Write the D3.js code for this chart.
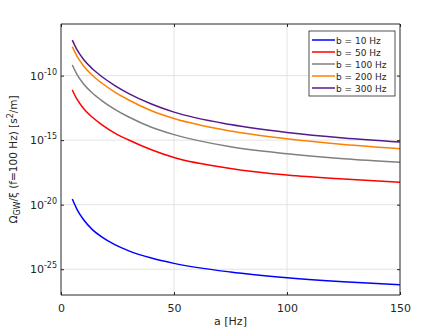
<!DOCTYPE html>
<html>
<head>
<meta charset="utf-8">
<script src="https://cdn.jsdelivr.net/npm/d3@7"></script>
<style>
html,body{margin:0;padding:0;background:#fff;}
svg{display:block;font-family:"DejaVu Sans",sans-serif;}
</style>
</head>
<body>
<svg id="chart" width="443" height="332"></svg>
<script>
// ---- data ----
const aValues = [5, 7, 10, 14, 18, 24, 30, 40, 50, 75, 100, 125, 150];
const b10  = [2.75e-20, 4.57e-21, 6.76e-22, 1.12e-22, 3.16e-23, 7.59e-24, 2.63e-24, 7.24e-25, 2.82e-25, 6.03e-26, 2.19e-26, 1.07e-26, 6.31e-27];
const b50  = [7.76e-12, 1.55e-12, 2.82e-13, 5.62e-14, 1.62e-14, 3.39e-15, 1.02e-15, 1.78e-16, 4.47e-17, 6.31e-18, 1.95e-18, 9.55e-19, 5.50e-19];
const b100 = [6.76e-10, 1.32e-10, 2.24e-11, 4.27e-12, 1.17e-12, 2.34e-13, 6.17e-14, 1.00e-14, 2.69e-15, 3.09e-16, 8.91e-17, 3.63e-17, 1.91e-17];
const b200 = [1.78e-8, 3.39e-9, 5.62e-10, 1.02e-10, 2.69e-11, 5.13e-12, 1.29e-12, 1.91e-13, 4.79e-14, 5.13e-15, 1.26e-15, 4.57e-16, 2.19e-16];
const b300 = [5.62e-8, 1.07e-8, 1.78e-9, 3.24e-10, 8.51e-11, 1.62e-11, 4.07e-12, 6.31e-13, 1.48e-13, 1.62e-14, 3.98e-15, 1.48e-15, 7.24e-16];
const seriesNames = ["b = 10 Hz", "b = 50 Hz", "b = 100 Hz", "b = 200 Hz", "b = 300 Hz"];
const seriesColors = ["#0000ff", "#ff0000", "#808080", "#ff8000", "#551a8b"];
const xTicks = [0, 50, 100, 150];
const yTickExps = [-10, -15, -20, -25];

const seriesValues = [b10, b50, b100, b200, b300];

// ---- layout ----
const svg = d3.select("#chart");
const L = 61, R = 400, T = 24, B = 295;
const axisColor = "#262626";

const x = d3.scaleLinear().domain([0, 150]).range([L, R]);
const y = d3.scaleLog().domain([1e-27, 1e-6]).range([B, T]);

// grid
const grid = svg.append("g");
grid.selectAll("line.gx").data(xTicks.slice(1, -1)).enter().append("line")
  .attr("x1", d => x(d)).attr("x2", d => x(d)).attr("y1", T).attr("y2", B)
  .attr("stroke", "#e3e3e3").attr("stroke-width", 1);
grid.selectAll("line.gy").data(yTickExps).enter().append("line")
  .attr("x1", L).attr("x2", R).attr("y1", d => y(Math.pow(10, d))).attr("y2", d => y(Math.pow(10, d)))
  .attr("stroke", "#e3e3e3").attr("stroke-width", 1);

// lines
const line = d3.line()
  .x((d, i) => x(aValues[i]))
  .y(d => y(d))
  .curve(d3.curveMonotoneX);
svg.append("g").selectAll("path").data(seriesValues).enter().append("path")
  .attr("d", d => line(d))
  .attr("fill", "none")
  .attr("stroke", (d, i) => seriesColors[i])
  .attr("stroke-width", 1.5);

// axes (ticks inside)
const xAxis = d3.axisBottom(x).tickValues(xTicks).tickSize(-3).tickPadding(9).tickFormat(d3.format("d"));
const gx = svg.append("g").attr("transform", `translate(0,${B})`).call(xAxis);
const xAxisTop = d3.axisTop(x).tickValues(xTicks).tickSize(-3).tickFormat("");
const gxt = svg.append("g").attr("transform", `translate(0,${T})`).call(xAxisTop);

const yAxis = d3.axisLeft(y).tickValues(yTickExps.map(e => Math.pow(10, e))).tickSize(-3).tickFormat("");
const gy = svg.append("g").attr("transform", `translate(${L},0)`).call(yAxis);
const yAxisR = d3.axisRight(y).tickValues(yTickExps.map(e => Math.pow(10, e))).tickSize(-3).tickFormat("");
const gyr = svg.append("g").attr("transform", `translate(${R},0)`).call(yAxisR);

[gx, gxt, gy, gyr].forEach(g => {
  g.select(".domain").attr("stroke", axisColor).attr("stroke-width", 1);
  g.selectAll(".tick line").attr("stroke", axisColor);
});
gx.selectAll(".tick text").attr("fill", axisColor).attr("font-size", 11).attr("font-family", "DejaVu Sans");
gx.select(".domain").attr("d", `M${L},0H${R}`);
gxt.select(".domain").attr("d", `M${L},0H${R}`);
gy.select(".domain").attr("d", `M0,${T}V${B}`);
gyr.select(".domain").attr("d", `M0,${T}V${B}`);

// y tick labels with superscript exponents
const yl = svg.append("g");
yTickExps.forEach(e => {
  const t = yl.append("text")
    .attr("x", L - 4).attr("y", y(Math.pow(10, e)) + 4)
    .attr("text-anchor", "end").attr("fill", axisColor).attr("font-size", 11);
  t.append("tspan").text("10");
  t.append("tspan").attr("dy", -5).attr("font-size", 8).text(String(e));
});

// x label
svg.append("text").attr("x", (L + R) / 2).attr("y", 325).attr("text-anchor", "middle")
  .attr("fill", axisColor).attr("font-size", 11).text("a [Hz]");

// y label
const ylab = svg.append("text")
  .attr("transform", `translate(17,${(T + B) / 2}) rotate(-90)`)
  .attr("text-anchor", "middle").attr("fill", axisColor).attr("font-size", 10.5);
ylab.append("tspan").text("Ω");
ylab.append("tspan").attr("dy", 3).attr("font-size", 8).text("GW");
ylab.append("tspan").attr("dy", -3).text("/ξ (f=100 Hz) [s");
ylab.append("tspan").attr("dy", -4).attr("font-size", 8).text("2");
ylab.append("tspan").attr("dy", 4).text("/m]");

// legend
const lg = svg.append("g");
const lgX = 309, lgY = 31, lgW = 86, lgH = 65;
lg.append("rect").attr("x", lgX).attr("y", lgY).attr("width", lgW).attr("height", lgH)
  .attr("fill", "#fff").attr("stroke", axisColor).attr("stroke-width", 0.8);
seriesNames.forEach((name, i) => {
  const yy = lgY + 9 + i * 12;
  lg.append("line").attr("x1", lgX + 3).attr("x2", lgX + 26).attr("y1", yy).attr("y2", yy)
    .attr("stroke", seriesColors[i]).attr("stroke-width", 1.5);
  lg.append("text").attr("x", lgX + 27).attr("y", yy + 3.5).attr("font-size", 9)
    .attr("fill", axisColor).text(name);
});
</script>
</body>
</html>
